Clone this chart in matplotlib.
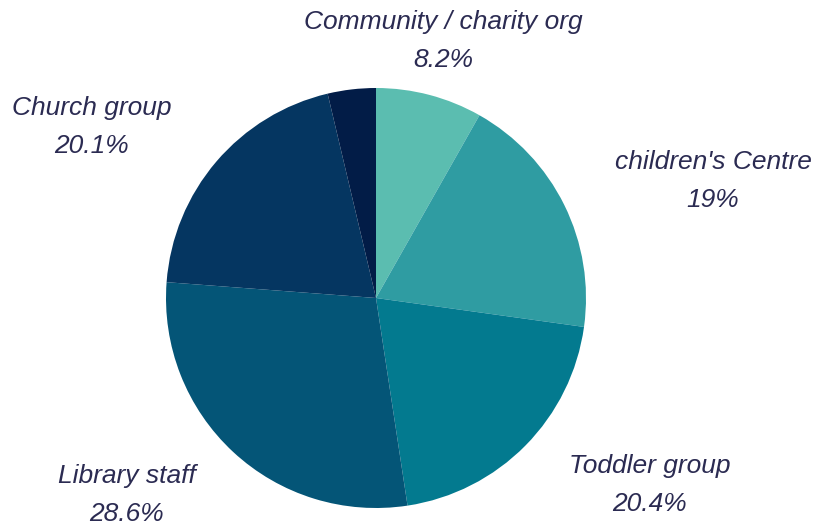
import matplotlib
matplotlib.use("Agg")
import matplotlib.pyplot as plt

categories = ["Community / charity org", "children's Centre", "Toddler group",
              "Library staff", "Church group", ""]
values = [8.2, 19.0, 20.4, 28.6, 20.1, 3.7]
value_labels = ["8.2%", "19%", "20.4%", "28.6%", "20.1%", ""]
colors = ["#5bbdb0", "#2f9ca2", "#037a8f", "#045577", "#053661", "#021c47"]

W, H = 825, 524
fig = plt.figure(figsize=(W / 100, H / 100), dpi=100)
ax = fig.add_axes([0, 0, 1, 1])

cx, cy, r = 376, H - 298, 210
ax.pie(values, colors=colors, startangle=90, counterclock=False,
       center=(cx, cy), radius=r, frame=True,
       wedgeprops=dict(linewidth=0))
ax.set_xlim(0, W)
ax.set_ylim(0, H)
ax.axis("off")

label_pos = [(443, 22), (713, 162), (650, 466), (127, 476), (92, 108)]
txt_color = "#2b2b52"
for (px, py), name, vl in zip(label_pos, categories, value_labels):
    ax.text(px, H - py, name, ha="center", va="center", fontsize=19,
            style="italic", family="Liberation Sans", color=txt_color)
    ax.text(px, H - py - 38, vl, ha="center", va="center", fontsize=19,
            style="italic", family="Liberation Sans", color=txt_color)

fig.savefig("out.png", dpi=100)
